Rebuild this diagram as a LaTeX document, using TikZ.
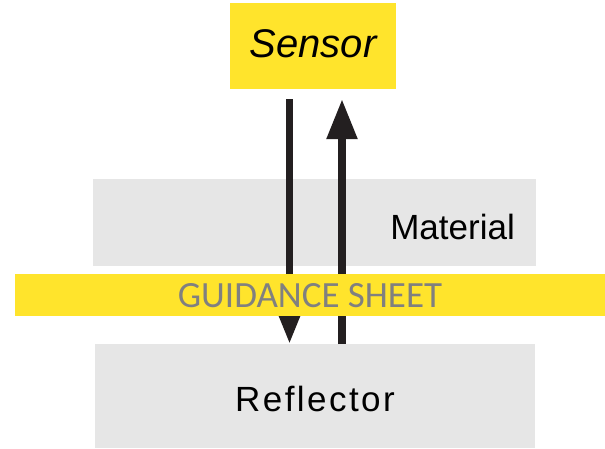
\documentclass[tikz,border=0pt]{standalone}
\usepackage{fontspec}
\setmainfont{Liberation Sans}
\newfontfamily\sheetfont{Carlito}
\usetikzlibrary{arrows.meta,positioning,calc}
\definecolor{sensoryellow}{HTML}{FFE42C}
\definecolor{layergray}{HTML}{E6E6E6}
\definecolor{beamblack}{HTML}{231F20}
\definecolor{sheettext}{HTML}{808080}

\begin{document}
\begin{tikzpicture}[
    x=1pt, y=-1pt,
    % --- Node styles ---
    box/.style={inner sep=0pt, outer sep=0pt, align=center},
    sensorbox/.style={box, fill=sensoryellow, minimum width=166pt, minimum height=86pt,
      font=\fontsize{40}{40}\selectfont\itshape, text height=29pt, text depth=7pt},
    layer/.style={box, fill=layergray},
    sheetbox/.style={box, fill=sensoryellow, minimum width=590pt, minimum height=42pt,
      font=\sheetfont\fontsize{37}{37}\selectfont, text=sheettext,
      text height=24pt, text depth=0pt},
    % --- Edge styles ---
    beam/.style={draw=beamblack, line width=7pt},
    send/.style={beam, -{Triangle[length=30pt, width=21pt]}},
    echo/.style={beam, line width=8pt, -{Triangle[length=40pt, width=29pt]}},
]
\useasboundingbox (0,0) rectangle (605,448);

% === Layers ===
\node[sensorbox] (sensor) at (313,46) {Sensor};
\node[layer, minimum width=443pt, minimum height=87pt] (material) at (314.5,222.5) {};
\node[anchor=base east, font=\fontsize{35}{35}\selectfont, inner sep=0pt]
  (material text) at ([xshift=-21pt, yshift=-17pt]material.east) {Material};
\node[layer, minimum width=440pt, minimum height=104pt,
      font=\fontsize{35}{35}\selectfont\addfontfeature{LetterSpace=7},
      text height=30pt, text depth=0pt] (reflector) at (315,396) {Reflector};

% === Beams (the sheet lies over them) ===
\coordinate (down start) at ([xshift=-23.5pt, yshift=-10pt]sensor.south);
\coordinate (up end) at ([xshift=29pt, yshift=-10pt]sensor.south);
\draw[send] (down start) -- (down start |- reflector.north);
\draw[echo] (up end |- reflector.north) -- (up end);

\node[sheetbox] (sheet) at (310,295) {GUIDANCE SHEET};

\end{tikzpicture}
\end{document}
